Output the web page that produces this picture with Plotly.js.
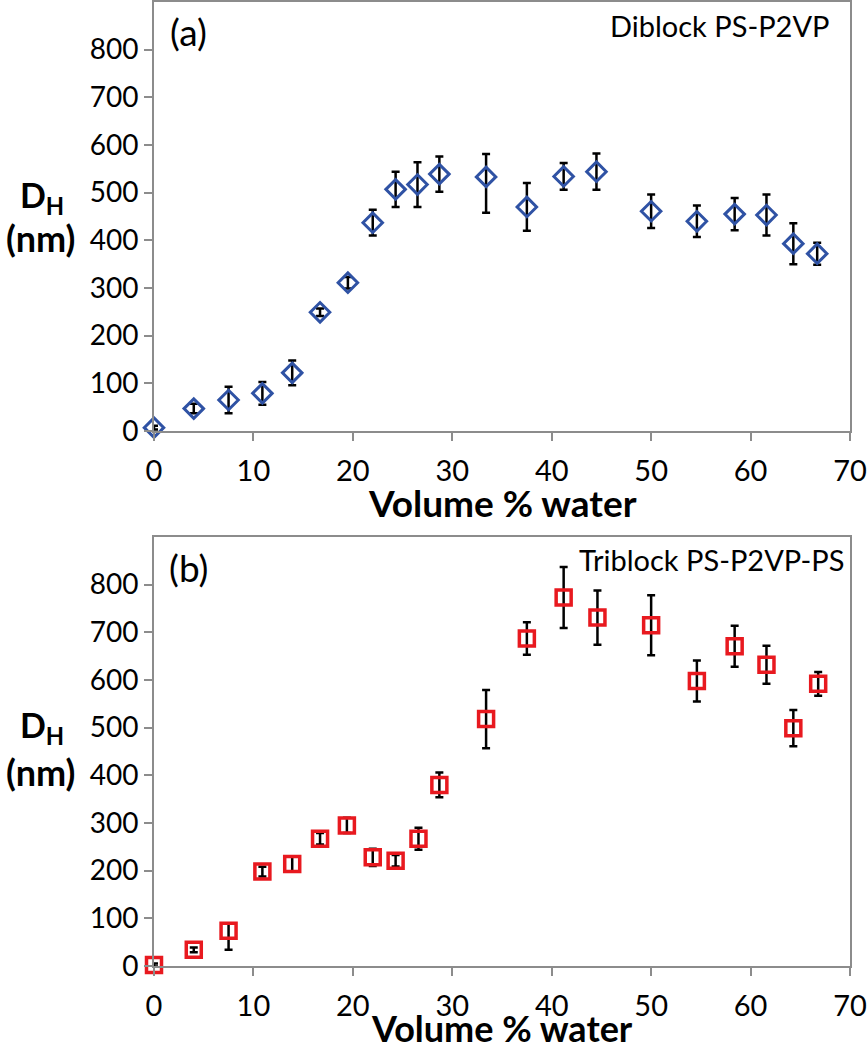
<!DOCTYPE html>
<html>
<head>
<meta charset="utf-8">
<script src="https://cdn.plot.ly/plotly-3.0.1.min.js"></script>
<style>html,body{margin:0;padding:0;background:#fff;}#chart{width:867px;height:1050px;}</style>
</head>
<body>
<div id="chart"></div>
<script>
// Panel (a): Diblock PS-P2VP
const waterA = [0, 4, 7.5, 10.9, 13.9, 16.7, 19.5, 22, 24.3, 26.5, 28.7, 33.4, 37.5, 41.2, 44.5, 50, 54.6, 58.4, 61.6, 64.3, 66.7];
const dhA = [7, 47, 65, 79, 122, 249, 311, 437, 507, 517, 539, 533, 470, 534, 544, 461, 440, 455, 453, 393, 372];
const errAPlus = [4, 10, 28, 24, 26, 8, 12, 27, 37, 47, 37, 48, 50, 28, 38, 35, 33, 34, 43, 43, 23];
const errAMinus = [4, 10, 28, 24, 26, 8, 12, 27, 37, 47, 37, 75, 50, 28, 38, 35, 33, 34, 43, 43, 23];

// Panel (b): Triblock PS-P2VP-PS
const waterB = [0, 4, 7.5, 10.9, 13.9, 16.7, 19.4, 22, 24.3, 26.6, 28.7, 33.4, 37.5, 41.2, 44.6, 50, 54.6, 58.4, 61.6, 64.3, 66.8];
const dhB = [2, 34, 74, 198, 214, 267, 295, 228, 221, 267, 380, 518, 687, 773, 731, 715, 598, 671, 632, 499, 592];
const errBPlus = [3, 5, 15, 10, 16, 12, 16, 18, 12, 23, 26, 61, 34, 64, 57, 63, 43, 43, 40, 38, 25];
const errBMinus = [3, 5, 40, 10, 16, 12, 16, 18, 12, 23, 26, 61, 34, 64, 57, 63, 43, 43, 40, 38, 25];

const xTicks = [0, 10, 20, 30, 40, 50, 60, 70];
const yTicks = [0, 100, 200, 300, 400, 500, 600, 700, 800];

const FONT = 'Lato, "Open Sans", sans-serif';
const AX = '#8c8c8c';

const traceA = {
  x: waterA, y: dhA, type: 'scatter', mode: 'markers', xaxis: 'x', yaxis: 'y',
  cliponaxis: false,
  marker: {symbol: 'diamond-open', size: 15, color: '#2f52a4', line: {width: 3, color: '#2f52a4'}},
  error_y: {type: 'data', symmetric: false, array: errAPlus, arrayminus: errAMinus, visible: true, color: '#000', thickness: 2.5, width: 4}
};
const traceB = {
  x: waterB, y: dhB, type: 'scatter', mode: 'markers', xaxis: 'x2', yaxis: 'y2',
  cliponaxis: false,
  marker: {symbol: 'square-open', size: 15, color: '#e8191f', line: {width: 3.5, color: '#e8191f'}},
  error_y: {type: 'data', symmetric: false, array: errBPlus, arrayminus: errBMinus, visible: true, color: '#000', thickness: 2.5, width: 4}
};

function xax(anchor) {
  return {
    anchor: anchor, range: [0, 70], tickvals: xTicks, ticktext: xTicks.map(String),
    showgrid: false, zeroline: false, showline: true, linecolor: AX, linewidth: 2, mirror: true,
    ticks: 'outside', ticklen: 8, tickwidth: 2, tickcolor: AX, ticklabelstandoff: 5,
    tickfont: {family: FONT, size: 29, color: '#000'}, fixedrange: true
  };
}
function yax(anchor, domain) {
  return {
    anchor: anchor, domain: domain, range: [0, 900], tickvals: yTicks, ticktext: yTicks.map(String),
    showgrid: false, zeroline: false, showline: true, linecolor: AX, linewidth: 2, mirror: true,
    ticks: 'outside', ticklen: 8, tickwidth: 2, tickcolor: AX,
    tickfont: {family: FONT, size: 28, color: '#000'}, fixedrange: true
  };
}

const topDom = [0.555, 1];
const botDom = [0, 0.445];
const PX = v => (v - 154) / 696;     // helper: pixel x -> paper x
const PY = v => (966 - v) / 964;     // helper: pixel y -> paper y

const layout = {
  width: 867, height: 1050,
  margin: {l: 154, r: 17, t: 2, b: 84},
  paper_bgcolor: '#fff', plot_bgcolor: '#fff',
  showlegend: false,
  font: {family: FONT, color: '#000'},
  xaxis: xax('y'),
  yaxis: yax('x', topDom),
  xaxis2: xax('y2'),
  yaxis2: yax('x2', botDom),
  annotations: [
    {text: '<b>Volume % water</b>', xref: 'paper', yref: 'paper', x: 0.5, y: PY(503), xanchor: 'center', yanchor: 'middle', showarrow: false, font: {family: FONT, size: 37}},
    {text: '<b>Volume % water</b>', xref: 'paper', yref: 'paper', x: 0.5, y: PY(1028), xanchor: 'center', yanchor: 'middle', showarrow: false, font: {family: FONT, size: 36}},
    {text: '<b>D<sub>H</sub></b>', xref: 'paper', yref: 'paper', x: PX(42), y: PY(197), xanchor: 'center', yanchor: 'middle', showarrow: false, font: {family: FONT, size: 34}},
    {text: '<b>(nm)</b>', xref: 'paper', yref: 'paper', x: PX(40), y: PY(238), xanchor: 'center', yanchor: 'middle', showarrow: false, font: {family: FONT, size: 36}},
    {text: '<b>D<sub>H</sub></b>', xref: 'paper', yref: 'paper', x: PX(42), y: PY(727), xanchor: 'center', yanchor: 'middle', showarrow: false, font: {family: FONT, size: 34}},
    {text: '<b>(nm)</b>', xref: 'paper', yref: 'paper', x: PX(40), y: PY(772), xanchor: 'center', yanchor: 'middle', showarrow: false, font: {family: FONT, size: 36}},
    {text: '(a)', xref: 'paper', yref: 'paper', x: PX(168), y: PY(31), xanchor: 'left', yanchor: 'middle', showarrow: false, font: {family: FONT, size: 37}},
    {text: '(b)', xref: 'paper', yref: 'paper', x: PX(167), y: PY(567), xanchor: 'left', yanchor: 'middle', showarrow: false, font: {family: FONT, size: 37}},
    {text: 'Diblock PS-P2VP', xref: 'paper', yref: 'paper', x: PX(831), y: PY(25), xanchor: 'right', yanchor: 'middle', showarrow: false, font: {family: FONT, size: 29}},
    {text: 'Triblock PS-P2VP-PS', xref: 'paper', yref: 'paper', x: PX(846), y: PY(559), xanchor: 'right', yanchor: 'middle', showarrow: false, font: {family: FONT, size: 29}}
  ]
};

Plotly.newPlot('chart', [traceA, traceB], layout, {displayModeBar: false, staticPlot: true});
</script>
</body>
</html>
